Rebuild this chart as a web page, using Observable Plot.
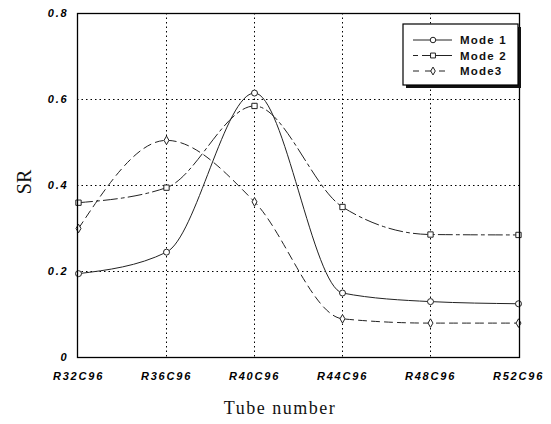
<!DOCTYPE html>
<html><head><meta charset="utf-8">
<script src="https://cdn.jsdelivr.net/npm/d3@7"></script>
<script src="https://cdn.jsdelivr.net/npm/@observablehq/plot@0.6"></script>
<style>
body{margin:0;background:#fff;}
</style>
</head><body><div id="chart"></div>
<script>
const tubes = ["R32C96","R36C96","R40C96","R44C96","R48C96","R52C96"];
const mode1 = [0.195, 0.245, 0.615, 0.150, 0.130, 0.125];
const mode2 = [0.360, 0.395, 0.585, 0.350, 0.286, 0.285];
const mode3 = [0.300, 0.505, 0.362, 0.090, 0.080, 0.080];
const yTicks = [0, 0.2, 0.4, 0.6, 0.8];
const seriesNames = ["Mode 1","Mode 2","Mode3"];

const rows = [];
[mode1, mode2, mode3].forEach((vals, s) => vals.forEach((v, i) => rows.push({tube: tubes[i], sr: v, mode: seriesNames[s]})));
const ofMode = m => rows.filter(d => d.mode === m);

const tickFont = {fontFamily: "Liberation Sans, Arial, sans-serif", fontWeight: "bold", fontStyle: "italic", fontSize: 11};
const dashes = {"Mode 1": null, "Mode 2": "14,4,3,4", "Mode3": "8,5"};
const symbols = {"Mode 1": "circle", "Mode 2": "square", "Mode3": "diamond"};

const marks = [
  Plot.gridY(yTicks.filter(t => t > 0 && t < 0.8), {y: d => d, stroke: "#000", strokeOpacity: 1, strokeDasharray: "1.5,3", strokeWidth: 1}),
  Plot.gridX(tubes.slice(1, -1), {x: d => d, stroke: "#000", strokeOpacity: 1, strokeDasharray: "1.5,3", strokeWidth: 1}),
];
for (const m of seriesNames) {
  marks.push(Plot.line(ofMode(m), {x: "tube", y: "sr", curve: "monotone-x", stroke: "#222", strokeWidth: 1, strokeDasharray: dashes[m]}));
  marks.push(Plot.dot(ofMode(m), {x: "tube", y: "sr", symbol: () => symbols[m], r: m === "Mode3" ? 2.6 : 3, stroke: "#222", fill: "white", strokeWidth: 1}));
}
marks.push(Plot.frame({stroke: "#000", strokeWidth: 1.3}));

const plot = Plot.plot({
  width: 551, height: 424,
  marginLeft: 77, marginRight: 32, marginTop: 13, marginBottom: 67,
  style: {background: "white"},
  x: {type: "point", domain: tubes, padding: 0, label: null, tickSize: 0, tickPadding: 15},
  y: {domain: [0, 0.8], ticks: yTicks, tickFormat: d => d === 0 ? "0" : d.toFixed(1), label: null, tickSize: 0, tickPadding: 9},
  symbol: {domain: seriesNames, range: ["circle","square","diamond"]},
  marks: [
    ...marks,
    Plot.axisX({tickSize: 0, tickPadding: 15, ...tickFont}),
    Plot.axisY({ticks: yTicks, tickSize: 0, tickPadding: 9, tickFormat: d => d === 0 ? "0" : d.toFixed(1), ...tickFont})
  ]
});
document.getElementById("chart").appendChild(plot);

const svg = d3.select(plot);
svg.selectAll("[aria-label='y-axis tick label'] text, [aria-label='x-axis tick label'] text").style("letter-spacing", "1.8px");

// axis titles
svg.append("text").attr("x", 280).attr("y", 414).attr("text-anchor", "middle")
  .attr("font-family", "Liberation Serif, Times New Roman, serif").attr("font-size", 18).attr("letter-spacing", "1.5px")
  .attr("fill", "#111").text("Tube number");
svg.append("text").attr("transform", "translate(31,182) rotate(-90)").attr("text-anchor", "middle")
  .attr("font-family", "Liberation Serif, Times New Roman, serif").attr("font-size", 20)
  .attr("fill", "#111").text("SR");

// legend
const lg = svg.append("g");
lg.append("rect").attr("x", 406).attr("y", 27).attr("width", 115).attr("height", 61).attr("fill", "#111");
lg.append("rect").attr("x", 403).attr("y", 24).attr("width", 115).attr("height", 61).attr("fill", "white").attr("stroke", "#000").attr("stroke-width", 1.2);
const sym = d3.symbol();
const symTypes = {"Mode 1": d3.symbolCircle, "Mode 2": d3.symbolSquare, "Mode3": d3.symbolDiamond};
seriesNames.forEach((m, i) => {
  const y = 40 + i * 15.5;
  lg.append("line").attr("x1", 413).attr("x2", 452).attr("y1", y).attr("y2", y).attr("stroke", "#222")
    .attr("stroke-dasharray", dashes[m] ? (m === "Mode 2" ? "5,4,30" : "6,6,8") : null);
  lg.append("path").attr("d", sym.type(symTypes[m]).size(m === "Mode3" ? 18 : 24)()).attr("transform", `translate(433,${y})`).attr("fill", "white").attr("stroke", "#222");
  lg.append("text").attr("x", 460).attr("y", y).attr("dy", "0.35em").attr("text-anchor", "start").attr("font-family", "Liberation Sans, Arial, sans-serif")
    .attr("font-weight", "bold").attr("font-size", 11.5).attr("letter-spacing", "1.2px").attr("fill", "#111").text(m);
});
</script>
</body></html>
